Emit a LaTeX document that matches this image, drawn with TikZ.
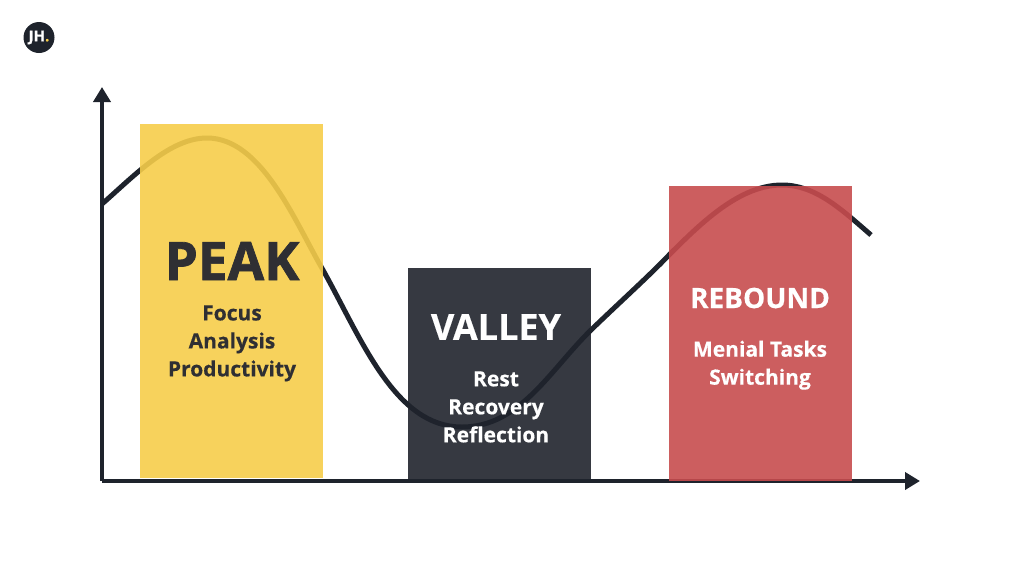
\documentclass[tikz,border=0pt]{standalone}
\usepackage{fontspec}
\setmainfont{Open Sans}[BoldFeatures={FakeBold=0.4}]
\newfontfamily\heavyfont{Open Sans}[BoldFeatures={FakeBold=1.4}]
\usetikzlibrary{arrows.meta,positioning}
\definecolor{inkdark}{HTML}{1E232C}
\definecolor{peakyellow}{HTML}{F6CD4A}
\definecolor{valleygrey}{HTML}{20242C}
\definecolor{reboundred}{HTML}{C74C4E}
\definecolor{titledark}{HTML}{2F2F33}
\tikzset{
	axisline/.style={line width=4.5pt, color=inkdark, -{Triangle[length=15pt,width=17pt]}},
	curveline/.style={line width=5pt, color=inkdark},
	zonebox/.style={anchor=north west, minimum width=183pt, inner sep=0pt, fill opacity=0.9},
	zonetitle/.style={font=\bfseries, inner sep=0pt},
	zonelist/.style={font=\fontsize{21}{28}\selectfont\bfseries, align=center, inner sep=0pt},
}
\begin{document}
\begin{tikzpicture}[x=1pt, y=-1pt]
	\useasboundingbox (0,0) rectangle (1024,576);
	% logo
	\node (logo) at (39,37.5) [circle, fill=inkdark, minimum size=31pt, inner sep=0pt,
		font=\fontsize{15}{15}\selectfont\bfseries, text=white] {JH\textcolor{peakyellow}{.}};
	% axes and curve go under the boxes
	\coordinate (origin) at (102,481);
	\coordinate (ytip) at (102,87);
	\coordinate (xtip) at (920,481);
	\draw[axisline] (origin) -- (ytip);
	\draw[axisline] (origin) -- (xtip);
	\coordinate (start) at (102,204);
	\coordinate (top1) at (207,138);
	\coordinate (low) at (462,427);
	\coordinate (top2) at (782,185);
	\coordinate (finish) at (871,235);
	\draw[curveline] (start) .. controls (135,175) and (170,138) .. (top1)
		.. controls (262,138) and (295,222) .. (323,270)
		.. controls (362,340) and (395,427) .. (low)
		.. controls (520,427) and (550,370) .. (591,330)
		.. controls (620,302) and (650,275) .. (669,255)
		.. controls (702,222) and (740,185) .. (top2)
		.. controls (815,185) and (840,208) .. (finish);
	% boxes
	\node (peak) at (140,124) [zonebox, fill=peakyellow, minimum height=354pt] {};
	\node (valley) at (408,268) [zonebox, fill=valleygrey, minimum height=211pt] {};
	\node (rebound) at (669,186) [zonebox, fill=reboundred, minimum height=295pt] {};
	% texts
	\node (peakname) at (232,261) [zonetitle, text=titledark, font=\fontsize{53}{53}\selectfont\heavyfont\bfseries] {PEAK};
	\node (peaklist) [zonelist, text=titledark, below=25pt of peakname] {Focus\\Analysis\\Productivity};
	\node (valleyname) at (496,327) [zonetitle, text=white, font=\fontsize{36}{36}\selectfont\bfseries] {VALLEY};
	\node (valleylist) [zonelist, text=white, below=31pt of valleyname] {Rest\\Recovery\\Reflection};
	\node (reboundname) at (760,298) [zonetitle, text=white, font=\fontsize{28}{28}\selectfont\bfseries] {REBOUND};
	\node (reboundlist) [zonelist, text=white, below=32pt of reboundname] {Menial Tasks\\Switching};
\end{tikzpicture}
\end{document}
